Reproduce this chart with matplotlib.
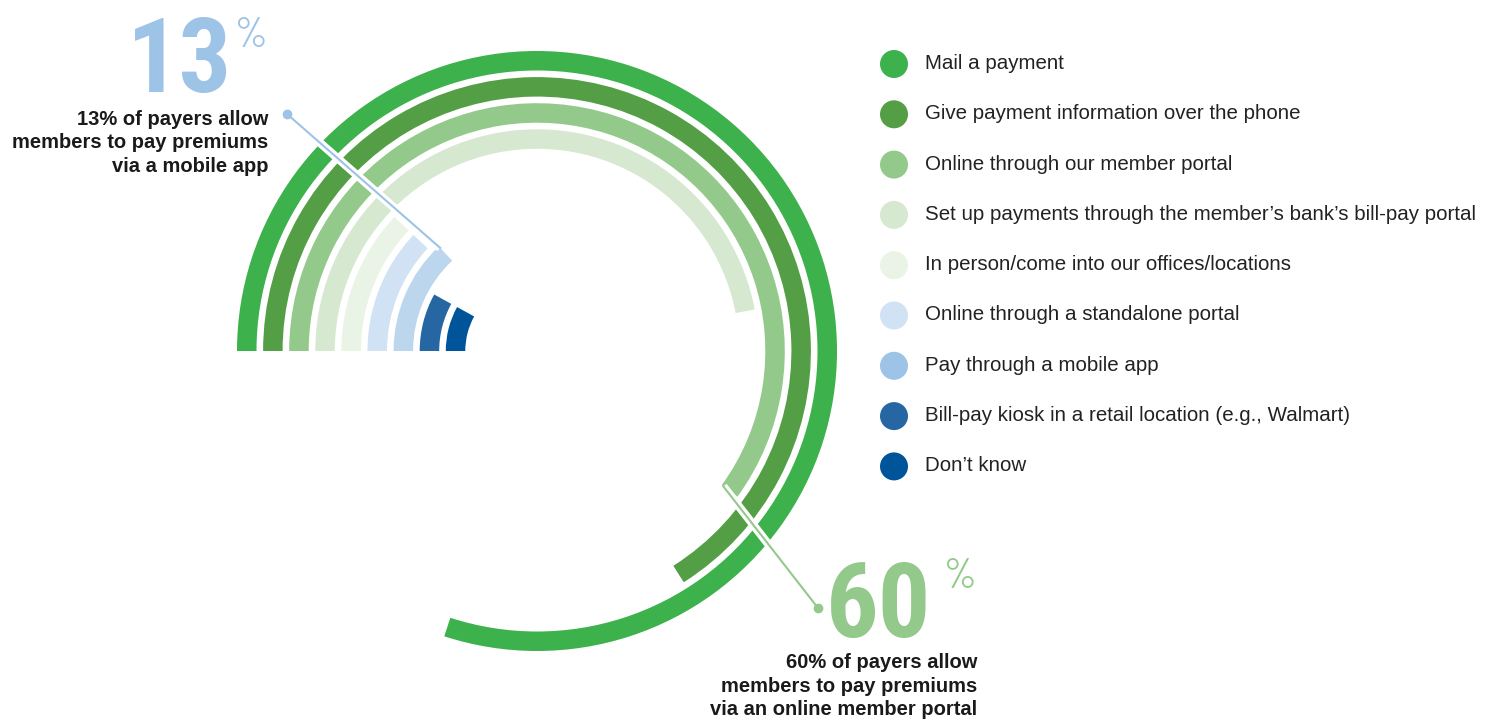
import numpy as np
import matplotlib
matplotlib.use("Agg")
import matplotlib.pyplot as plt
from matplotlib.patches import Wedge, Ellipse

# share of payers offering each payment channel (%)
methods = [
    "Mail a payment",
    "Give payment information over the phone",
    "Online through our member portal",
    "Set up payments through the member\u2019s bank\u2019s bill-pay portal",
    "In person/come into our offices/locations",
    "Online through a standalone portal",
    "Pay through a mobile app",
    "Bill-pay kiosk in a retail location (e.g., Walmart)",
    "Don\u2019t know",
]
shares = [80, 66, 60, 47, 12, 12, 13, 8, 8]
colors = ["#3db14b", "#549e46", "#93c98a", "#d7e8d0", "#eaf4e6",
          "#d0e2f3", "#9dc3e6", "#2566a3", "#00549a"]
ring_colors = colors[:6] + ["#bcd6ee"] + colors[7:]

W, H = 1489, 720
fig = plt.figure(figsize=(W / 100, H / 100), dpi=100)
ax = fig.add_axes([0, 0, 1, 1])
ax.set_xlim(0, W)
ax.set_ylim(0, H)
ax.set_aspect("equal")
ax.axis("off")

cx, cy = 537, 369
r_out, step, width = 300, 26.1, 19.5

ends = []
for i, (v, c) in enumerate(zip(shares, ring_colors)):
    r = r_out - i * step
    sweep = v / 100 * 360
    ax.add_patch(Wedge((cx, cy), r, 180 - sweep, 180, width=width,
                       facecolor=c, edgecolor="none", zorder=2))
    ends.append((r, np.deg2rad(180 - sweep)))

def arc_point(i, rad):
    r, a = ends[i]
    return cx + rad * np.cos(a), cy + rad * np.sin(a)

# callout lines
mob = methods.index("Pay through a mobile app")
px, py = arc_point(mob, ends[mob][0] - 2)
dx, dy = 287, H - 114
ax.plot([dx, px], [dy, py], color="white", lw=6, solid_capstyle="butt", zorder=3)
ax.plot([dx, px], [dy, py], color="#9dc3e6", lw=1.5, zorder=4)
ax.plot(dx, dy, "o", color="#9dc3e6", ms=6, zorder=4)

por = methods.index("Online through our member portal")
px, py = arc_point(por, ends[por][0] - width + 2)
dx, dy = 818, H - 608
ax.plot([dx, px], [dy, py], color="white", lw=6, solid_capstyle="butt", zorder=3)
ax.plot([dx, px], [dy, py], color="#93c98a", lw=1.5, zorder=4)
ax.plot(dx, dy, "o", color="#93c98a", ms=6, zorder=4)

big = ["Roboto Condensed", "Barlow Semi Condensed", "Barlow Condensed",
       "Liberation Sans"]
pct = ["Barlow Condensed", "Liberation Sans"]
body = ["Liberation Sans", "DejaVu Sans"]

# 13% callout
ax.text(232, H - 92, f"{shares[mob]}", ha="right", va="baseline", fontsize=75,
        fontweight=700, family=big, color="#9dc3e6")
ax.text(268, H - 17, "%", ha="right", va="top", fontsize=30, fontweight=400,
        family=pct, color="#9dc3e6")
for k, line in enumerate(["13% of payers allow", "members to pay premiums",
                          "via a mobile app"]):
    ax.text(268, H - 125 - k * 23.3, line, ha="right", va="baseline",
            fontsize=14.5, fontweight="bold", family=body, color="#1a1a1a")

# 60% callout
ax.text(931, H - 637, f"{shares[por]}", ha="right", va="baseline", fontsize=75,
        fontweight=700, family=big, color="#93c98a")
ax.text(977, H - 558, "%", ha="right", va="top", fontsize=30, fontweight=400,
        family=pct, color="#93c98a")
for k, line in enumerate(["60% of payers allow", "members to pay premiums",
                          "via an online member portal"]):
    ax.text(977, H - 668 - k * 23.5, line, ha="right", va="baseline",
            fontsize=14.5, fontweight="bold", family=body, color="#1a1a1a")

# legend
for i, (m, c) in enumerate(zip(methods, colors)):
    y = H - (64 + i * 50.3)
    ax.add_patch(Ellipse((894, y), 28, 28, facecolor=c, edgecolor="none"))
    ax.text(925, y - 5, m, ha="left", va="baseline", fontsize=14.8,
            family=body, color="#222222")

fig.savefig("out.png", dpi=100, facecolor="white")
